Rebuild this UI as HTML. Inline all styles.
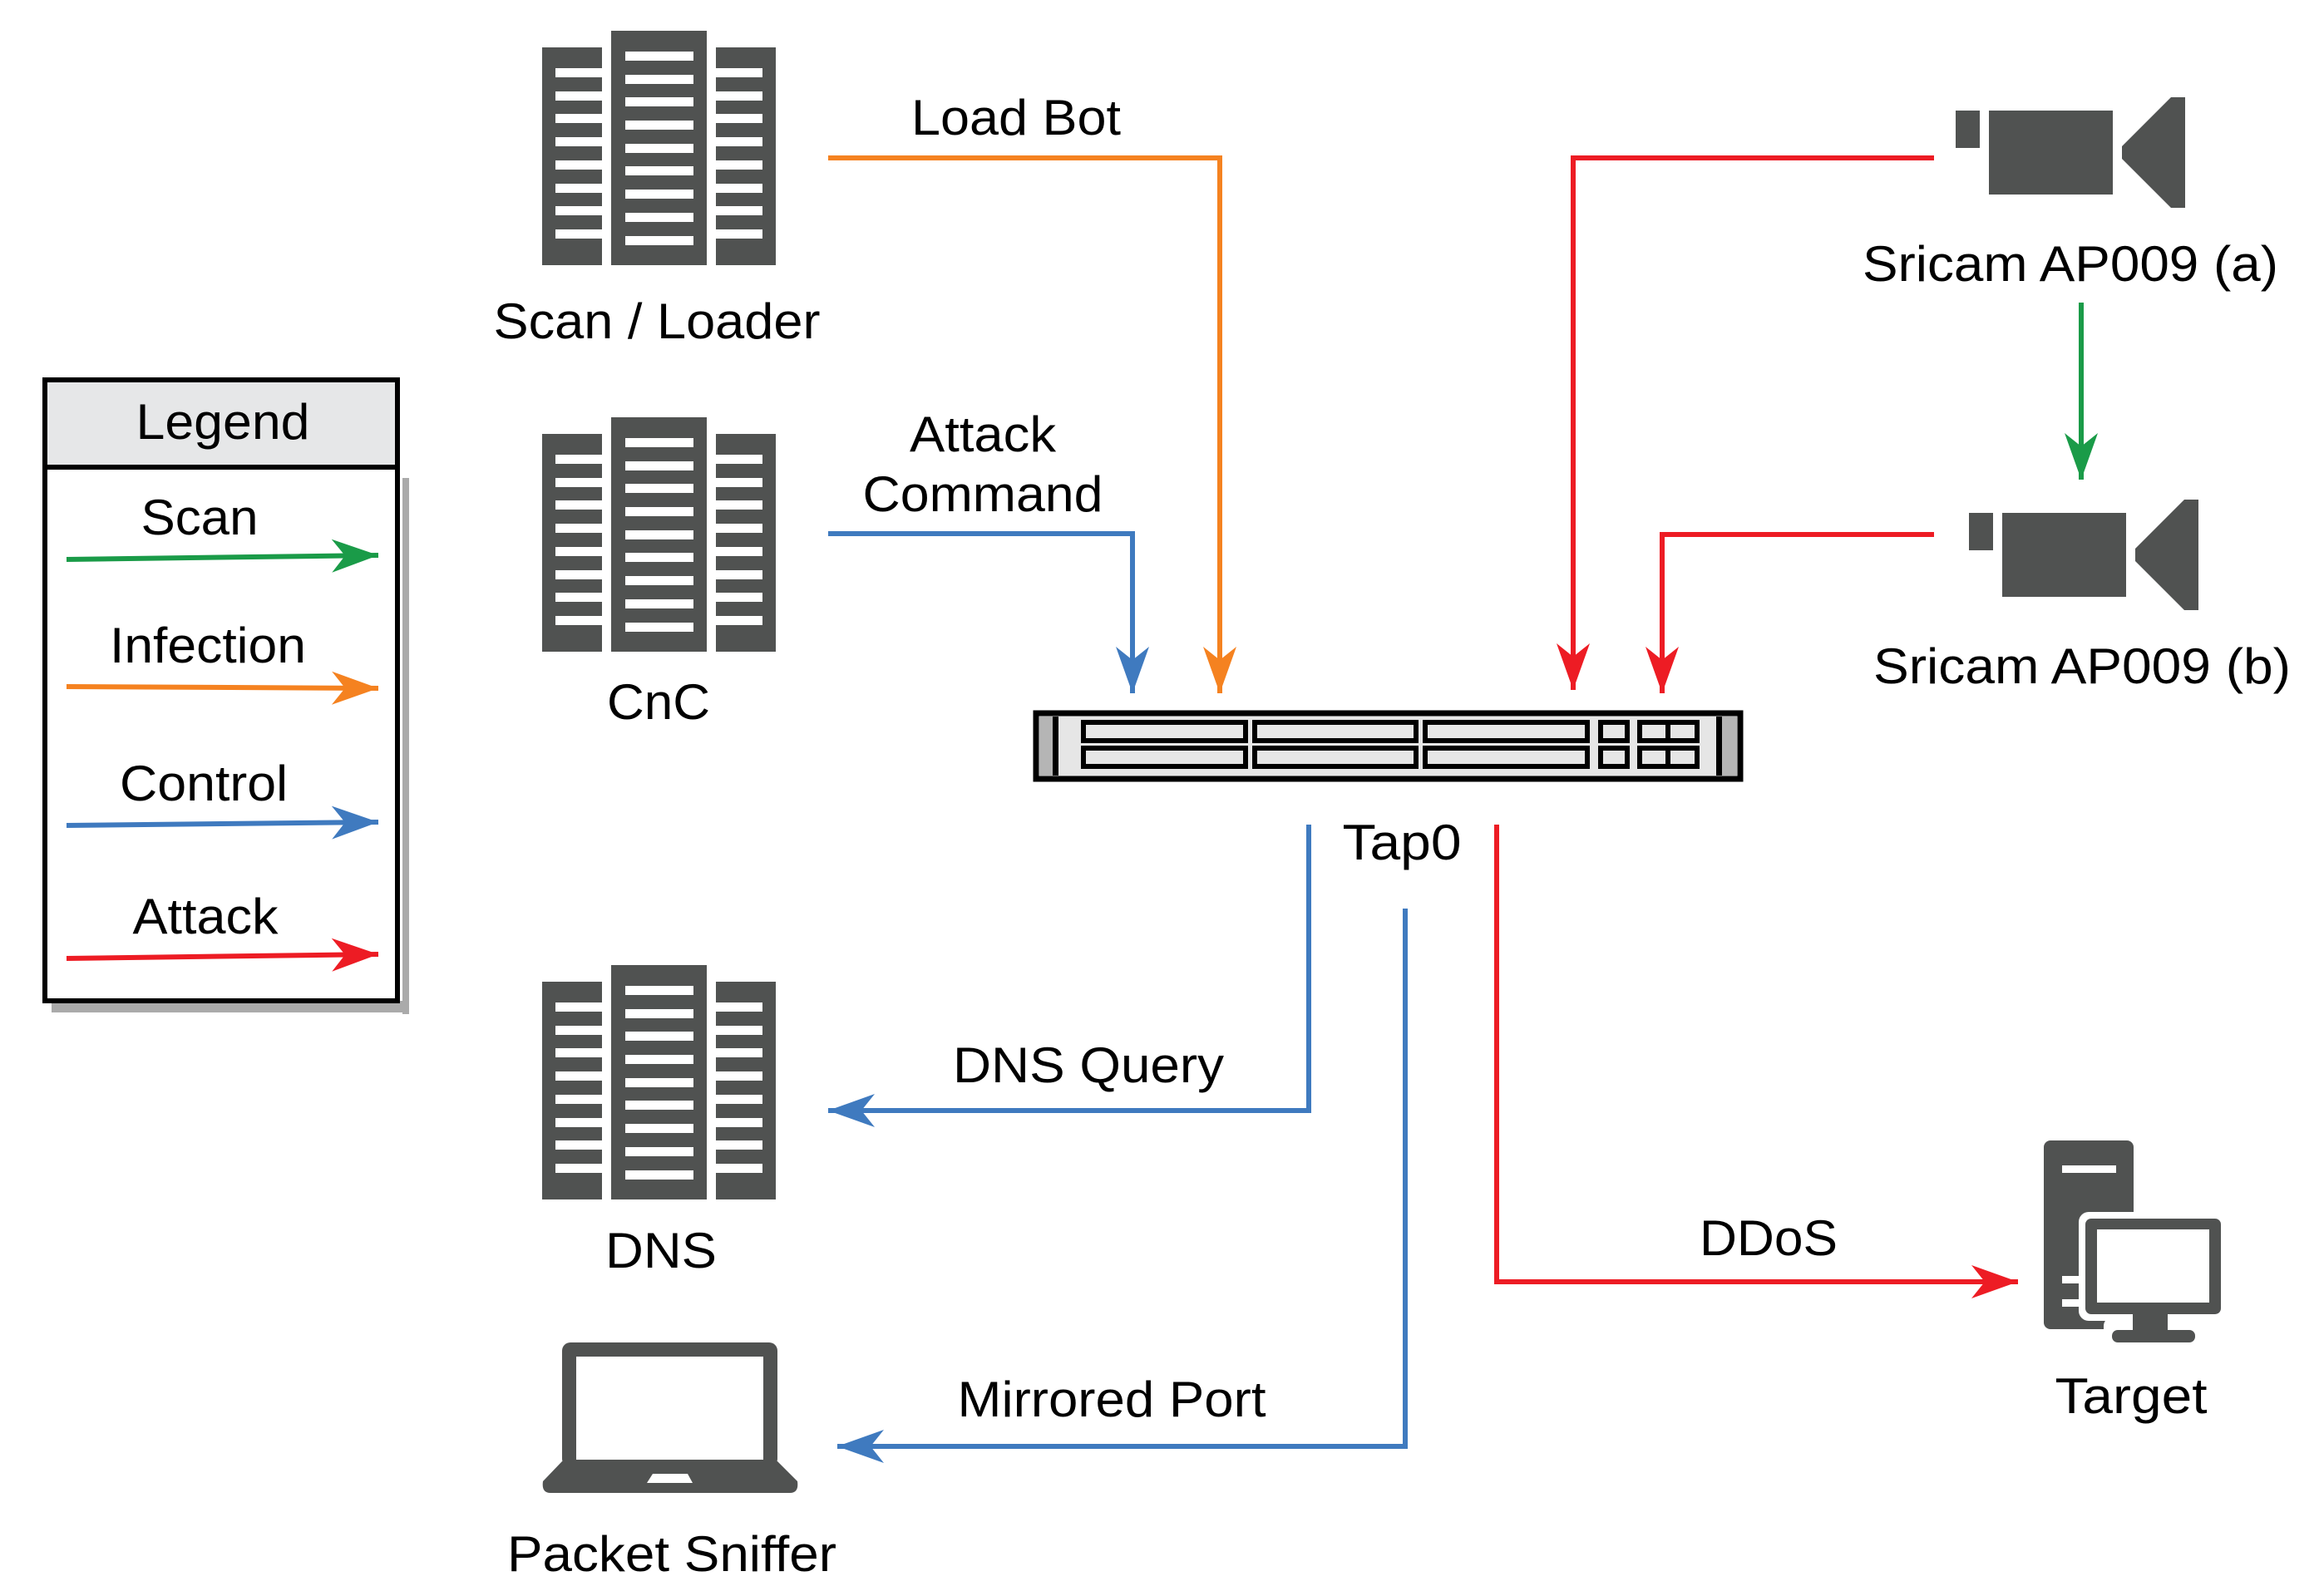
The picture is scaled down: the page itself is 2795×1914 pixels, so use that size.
<!DOCTYPE html>
<html><head><meta charset="utf-8"><style>
html,body{margin:0;padding:0;background:#fff;}
svg{display:block;}
text{font-family:"Liberation Sans",Arial,sans-serif;font-size:60px;fill:#000;text-anchor:middle;}
</style></head><body>
<svg width="2795" height="1914" viewBox="0 0 2795 1914" xmlns="http://www.w3.org/2000/svg">
<defs>
<marker id="ao" viewBox="-58 -22 60 44" markerWidth="60" markerHeight="44" refX="0" refY="0" orient="auto" markerUnits="userSpaceOnUse"><path d="M0,0 L-56,-20 L-40,0 L-56,20 Z" fill="#f58220"/></marker>
<marker id="ab" viewBox="-58 -22 60 44" markerWidth="60" markerHeight="44" refX="0" refY="0" orient="auto" markerUnits="userSpaceOnUse"><path d="M0,0 L-56,-20 L-40,0 L-56,20 Z" fill="#3f7abf"/></marker>
<marker id="ar" viewBox="-58 -22 60 44" markerWidth="60" markerHeight="44" refX="0" refY="0" orient="auto" markerUnits="userSpaceOnUse"><path d="M0,0 L-56,-20 L-40,0 L-56,20 Z" fill="#ed1c24"/></marker>
<marker id="ag" viewBox="-58 -22 60 44" markerWidth="60" markerHeight="44" refX="0" refY="0" orient="auto" markerUnits="userSpaceOnUse"><path d="M0,0 L-56,-20 L-40,0 L-56,20 Z" fill="#1a9b48"/></marker>
<g id="srv">
<rect x="652" y="57" width="72" height="262" fill="#505251"/>
<rect x="735" y="37" width="115" height="282" fill="#505251"/>
<rect x="861" y="57" width="72" height="262" fill="#505251"/>
<g fill="#fff">
<rect x="668" y="82" width="56" height="11"/><rect x="668" y="110" width="56" height="11"/><rect x="668" y="137" width="56" height="11"/><rect x="668" y="165" width="56" height="11"/><rect x="668" y="193" width="56" height="11"/><rect x="668" y="221" width="56" height="11"/><rect x="668" y="248" width="56" height="11"/><rect x="668" y="276" width="56" height="11"/>
<rect x="861" y="82" width="56" height="11"/><rect x="861" y="110" width="56" height="11"/><rect x="861" y="137" width="56" height="11"/><rect x="861" y="165" width="56" height="11"/><rect x="861" y="193" width="56" height="11"/><rect x="861" y="221" width="56" height="11"/><rect x="861" y="248" width="56" height="11"/><rect x="861" y="276" width="56" height="11"/>
<rect x="752" y="62" width="82" height="11"/><rect x="752" y="90" width="82" height="11"/><rect x="752" y="117" width="82" height="11"/><rect x="752" y="145" width="82" height="11"/><rect x="752" y="173" width="82" height="11"/><rect x="752" y="200" width="82" height="11"/><rect x="752" y="228" width="82" height="11"/><rect x="752" y="256" width="82" height="11"/><rect x="752" y="284" width="82" height="11"/>
</g></g>
<g id="cam" fill="#505251">
<rect x="2352" y="133" width="29" height="45"/>
<rect x="2392" y="133" width="149" height="101"/>
<path d="M2552,176 L2611,117 L2628,117 L2628,250 L2611,250 L2552,191 Z"/>
</g>
</defs>

<!-- Legend -->
<rect x="484" y="575" width="8" height="645" fill="#aaa"/>
<rect x="62" y="1204" width="430" height="14" fill="#aaa"/>
<rect x="54" y="457" width="424" height="747" fill="#fff" stroke="#000" stroke-width="6"/>
<rect x="57" y="460" width="418" height="100" fill="#e6e7e8"/>
<line x1="54" y1="562" x2="478" y2="562" stroke="#000" stroke-width="6"/>
<text x="268" y="528" textLength="209" lengthAdjust="spacingAndGlyphs">Legend</text>
<text x="240" y="643" textLength="141" lengthAdjust="spacingAndGlyphs">Scan</text>
<line x1="80" y1="673" x2="455" y2="668" stroke="#1a9b48" stroke-width="6" marker-end="url(#ag)"/>
<text x="250" y="797" textLength="236" lengthAdjust="spacingAndGlyphs">Infection</text>
<line x1="80" y1="826" x2="455" y2="828" stroke="#f58220" stroke-width="6" marker-end="url(#ao)"/>
<text x="245" y="963" textLength="202" lengthAdjust="spacingAndGlyphs">Control</text>
<line x1="80" y1="993" x2="455" y2="989" stroke="#3f7abf" stroke-width="6" marker-end="url(#ab)"/>
<text x="247" y="1123" textLength="175" lengthAdjust="spacingAndGlyphs">Attack</text>
<line x1="80" y1="1153" x2="455" y2="1148" stroke="#ed1c24" stroke-width="6" marker-end="url(#ar)"/>

<!-- Servers -->
<use href="#srv"/>
<use href="#srv" transform="translate(0,465)"/>
<use href="#srv" transform="translate(0,1124)"/>
<text x="790" y="407" textLength="393" lengthAdjust="spacingAndGlyphs">Scan / Loader</text>
<text x="792" y="865" textLength="124" lengthAdjust="spacingAndGlyphs">CnC</text>
<text x="795" y="1525" textLength="134" lengthAdjust="spacingAndGlyphs">DNS</text>

<!-- Laptop -->
<g fill="#505251">
<rect x="676" y="1615" width="259" height="150" rx="10"/>
<path d="M676,1758 L935,1758 L959,1782 Q961,1796 950,1796 L662,1796 Q651,1796 653,1782 Z"/>
</g>
<rect x="693" y="1632" width="225" height="124" fill="#fff"/>
<path d="M785,1773 L827,1773 L833,1784 L778,1784 Z" fill="#fff"/>
<text x="808" y="1890" textLength="396" lengthAdjust="spacingAndGlyphs">Packet Sniffer</text>

<!-- Cameras -->
<use href="#cam"/>
<use href="#cam" transform="translate(16,484)"/>
<text x="2490" y="338" textLength="500" lengthAdjust="spacingAndGlyphs">Sricam AP009 (a)</text>
<text x="2504" y="822" textLength="502" lengthAdjust="spacingAndGlyphs">Sricam AP009 (b)</text>

<!-- Target -->
<g>
<rect x="2458" y="1372" width="108" height="227" rx="8" fill="#505251"/>
<rect x="2480" y="1402" width="65" height="9" fill="#fff"/>
<rect x="2480" y="1535" width="22" height="9" fill="#fff"/>
<rect x="2480" y="1563" width="22" height="9" fill="#fff"/>
<rect x="2500" y="1458" width="179" height="131" rx="12" fill="#fff"/>
<rect x="2530" y="1585" width="90" height="34" rx="10" fill="#fff"/>
<rect x="2508" y="1466" width="163" height="115" rx="7" fill="#505251"/>
<rect x="2522" y="1479" width="135" height="88" fill="#fff"/>
<rect x="2565" y="1579" width="42" height="24" fill="#505251"/>
<rect x="2540" y="1600" width="100" height="15" rx="7" fill="#505251"/>
</g>
<text x="2563" y="1700" textLength="183" lengthAdjust="spacingAndGlyphs">Target</text>

<!-- Switch -->
<rect x="1246" y="858" width="847" height="79" fill="#e6e6e6" stroke="#000" stroke-width="7"/>
<rect x="1250" y="862" width="23" height="71" fill="#b5b5b5"/>
<rect x="1266" y="862" width="7" height="71" fill="#000"/>
<rect x="2064" y="862" width="25" height="71" fill="#b5b5b5"/>
<rect x="2064" y="862" width="7" height="71" fill="#000"/>
<g fill="#e6e6e6" stroke="#000" stroke-width="6">
<rect x="1303" y="869" width="195" height="22"/><rect x="1509" y="869" width="194" height="22"/><rect x="1714" y="869" width="195" height="22"/>
<rect x="1303" y="900" width="195" height="22"/><rect x="1509" y="900" width="194" height="22"/><rect x="1714" y="900" width="195" height="22"/>
<rect x="1925" y="869" width="32" height="22"/><rect x="1925" y="900" width="32" height="22"/>
<rect x="1972" y="869" width="34" height="22"/><rect x="2006" y="869" width="35" height="22"/>
<rect x="1972" y="900" width="34" height="22"/><rect x="2006" y="900" width="35" height="22"/>
</g>
<text x="1686" y="1034" textLength="143" lengthAdjust="spacingAndGlyphs">Tap0</text>

<!-- Connectors -->
<g fill="none" stroke-width="6">
<polyline points="996,190 1467,190 1467,834" stroke="#f58220" marker-end="url(#ao)"/>
<polyline points="996,642 1362,642 1362,834" stroke="#3f7abf" marker-end="url(#ab)"/>
<polyline points="2326,190 1892,190 1892,830" stroke="#ed1c24" marker-end="url(#ar)"/>
<polyline points="2326,643 1999,643 1999,834" stroke="#ed1c24" marker-end="url(#ar)"/>
<line x1="2503" y1="364" x2="2503" y2="577" stroke="#1a9b48" marker-end="url(#ag)"/>
<polyline points="1574,992 1574,1336 996,1336" stroke="#3f7abf" marker-end="url(#ab)"/>
<polyline points="1690,1093 1690,1740 1007,1740" stroke="#3f7abf" marker-end="url(#ab)"/>
<polyline points="1800,992 1800,1542 2427,1542" stroke="#ed1c24" marker-end="url(#ar)"/>
</g>
<text x="1222" y="162" textLength="252" lengthAdjust="spacingAndGlyphs">Load Bot</text>
<text x="1182" y="543" textLength="176" lengthAdjust="spacingAndGlyphs">Attack</text>
<text x="1182" y="615" textLength="289" lengthAdjust="spacingAndGlyphs">Command</text>
<text x="1309" y="1302" textLength="326" lengthAdjust="spacingAndGlyphs">DNS Query</text>
<text x="1337" y="1704" textLength="371" lengthAdjust="spacingAndGlyphs">Mirrored Port</text>
<text x="2127" y="1510" textLength="166" lengthAdjust="spacingAndGlyphs">DDoS</text>
</svg>
</body></html>
